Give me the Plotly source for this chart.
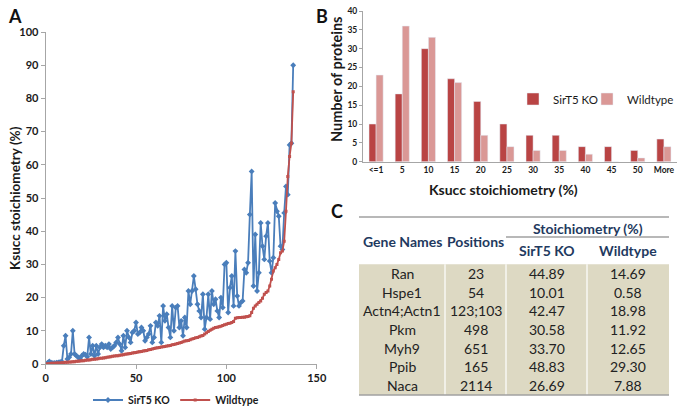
import plotly.graph_objects as go

W, H = 685, 413
FONT = "Lato"


def px(x):
    return x / W


def py(y):
    return 1 - y / H


# ---------------- Panel A data ----------------
site_index = list(range(1, 138))
sirt5_ko = [
    0.3, 0.8, 0.4, 0.3, 0.3, 0.4, 0.5, 0.6, 0.7, 5.5,
    8.5, 1.5, 2.0, 3.0, 10.0, 3.0, 2.5, 2.0, 1.5, 2.5,
    3.0, 2.8, 2.2, 8.0, 3.0, 5.5, 2.5, 5.5, 3.0, 5.0,
    6.0, 5.0, 5.5, 5.0, 6.0, 4.5, 5.0, 5.5, 6.5, 8.0,
    6.0, 4.0, 8.5, 5.0, 10.0, 8.0, 6.5, 9.5, 10.0, 12.5,
    9.0, 9.5, 11.0, 10.0, 7.0, 8.0, 9.0, 11.5, 6.5, 8.0,
    12.5, 11.5, 14.5, 6.5, 17.5, 13.0, 15.0, 11.0, 8.0, 17.5,
    10.0, 17.0, 17.5, 11.0, 13.0, 8.5, 14.0, 11.0, 22.0, 18.0,
    22.0, 26.5, 22.5, 18.0, 16.0, 14.0, 21.0, 10.5, 14.0, 21.0,
    13.5, 22.0, 18.0, 19.5, 16.0, 14.0, 20.0, 17.0, 30.0, 30.5,
    15.5, 23.0, 26.5, 17.5, 34.0, 20.5, 17.5, 18.5, 19.0, 28.5,
    27.5, 30.5, 45.0, 58.0, 23.5, 39.0, 22.0, 27.5, 42.5, 35.5,
    31.5, 38.5, 42.5, 31.0, 27.5, 32.0, 48.5, 46.0, 44.5, 35.5,
    34.5, 45.5, 53.5, 51.0, 66.0, 66.5, 90.0,
]
wildtype = [
    0.1, 0.1, 0.2, 0.2, 0.2, 0.3, 0.3, 0.3, 0.4, 0.4,
    0.5, 0.5, 0.6, 0.6, 0.7, 0.7, 0.8, 0.8, 0.9, 1.0,
    1.0, 1.1, 1.2, 1.2, 1.3, 1.4, 1.4, 1.5, 1.6, 1.7,
    1.7, 1.8, 1.9, 2.0, 2.1, 2.2, 2.3, 2.4, 2.5, 2.5,
    2.6, 2.7, 2.8, 2.9, 3.0, 3.1, 3.2, 3.3, 3.4, 3.5,
    3.6, 3.7, 3.8, 3.9, 4.0, 4.1, 4.3, 4.4, 4.5, 4.7,
    4.8, 4.9, 5.0, 5.1, 5.2, 5.3, 5.4, 5.5, 5.6, 5.8,
    5.9, 6.0, 6.2, 6.3, 6.5, 6.7, 6.9, 7.0, 7.1, 7.3,
    7.5, 7.7, 7.9, 8.0, 8.2, 8.4, 8.6, 9.0, 9.4, 9.8,
    10.2, 10.5, 10.8, 11.0, 11.1, 11.2, 11.4, 11.6, 11.8, 12.0,
    12.2, 12.3, 12.5, 12.8, 13.8, 13.9, 14.0, 14.0, 14.1, 14.1,
    14.2, 14.3, 14.5, 15.5, 16.8, 17.5, 18.0, 18.5, 19.0, 19.8,
    21.0, 21.5, 22.0, 23.5, 25.5, 28.0, 29.0, 30.0, 31.5, 33.5,
    34.0, 37.0, 46.0, 56.5, 62.5, 66.5, 82.0,
]

# ---------------- Panel B data ----------------
bins = ["<=1", "5", "10", "15", "20", "25", "30", "35", "40", "45", "50", "More"]
count_ko = [10, 18, 30, 22, 16, 10, 7, 7, 4, 4, 3, 6]
count_wt = [23, 36, 33, 21, 7, 4, 3, 3, 2, 0, 1, 4]

# ---------------- Panel C data ----------------
gene_names = ["Ran", "Hspe1", "Actn4;Actn1", "Pkm", "Myh9", "Ppib", "Naca"]
positions = ["23", "54", "123;103", "498", "651", "165", "2114"]
stoich_ko = [44.89, 10.01, 42.47, 30.58, 33.70, 48.83, 26.69]
stoich_wt = [14.69, 0.58, 18.98, 11.92, 12.65, 29.30, 7.88]

BLUE = "#4A7EBB"
RED = "#C0504D"
BAR_DARK = "#B94444"
BAR_LIGHT = "#DA9896"
AXIS = "#A6A6A6"
TXT = "#1A1A1A"
NAVY = "#1F3A60"

fig = go.Figure()

fig.add_trace(go.Scatter(
    x=site_index, y=sirt5_ko, mode="lines+markers", name="SirT5 KO",
    line=dict(color=BLUE, width=1.8),
    marker=dict(symbol="diamond", size=4.5, color=BLUE),
    legend="legend", xaxis="x", yaxis="y"))
fig.add_trace(go.Scatter(
    x=site_index, y=wildtype, mode="lines+markers", name="Wildtype",
    line=dict(color=RED, width=1.8),
    marker=dict(symbol="square", size=3, color=RED),
    legend="legend", xaxis="x", yaxis="y"))

fig.add_trace(go.Bar(
    x=bins, y=count_ko, name="SirT5 KO", marker=dict(color=BAR_DARK),
    xaxis="x2", yaxis="y2", legend="legend2"))
fig.add_trace(go.Bar(
    x=bins, y=count_wt, name="Wildtype", marker=dict(color=BAR_LIGHT),
    xaxis="x2", yaxis="y2", legend="legend3"))

tickfont_a = dict(family=FONT, size=11, color=TXT, weight="bold")
tickfont_b = dict(family=FONT, size=8.5, color=TXT, weight="bold")
legfont_b = dict(family=FONT, size=11.5, color=TXT)

fig.update_layout(
    width=W, height=H,
    margin=dict(l=0, r=0, t=0, b=0, autoexpand=False),
    paper_bgcolor="white", plot_bgcolor="white",
    font=dict(family=FONT, color=TXT),
    showlegend=True,
    barmode="group", bargap=0.46, bargroupgap=0.0,
    xaxis=dict(domain=[px(45.7), px(316.7)], range=[0, 150],
               tickvals=[0, 50, 100, 150], showgrid=False, zeroline=False,
               showline=True, linecolor=AXIS, linewidth=1,
               ticks="outside", ticklen=4, tickcolor=AXIS,
               tickfont=tickfont_a, anchor="y", automargin=False),
    yaxis=dict(domain=[py(364), py(32)], range=[0, 100], dtick=10,
               showgrid=False, zeroline=False,
               showline=True, linecolor=AXIS, linewidth=1,
               ticks="outside", ticklen=4, tickcolor=AXIS,
               tickfont=tickfont_a, anchor="x", automargin=False),
    xaxis2=dict(domain=[px(363), px(677)], type="category",
                showgrid=False, zeroline=False,
                showline=True, linecolor=AXIS, linewidth=1,
                ticks="", tickfont=tickfont_b, anchor="y2", automargin=False),
    yaxis2=dict(domain=[py(161.7), py(11)], range=[0, 40], dtick=5,
                showgrid=False, zeroline=False,
                showline=True, linecolor=AXIS, linewidth=1,
                ticks="outside", ticklen=3, tickcolor=AXIS,
                tickfont=tickfont_b, anchor="x2", automargin=False),
    legend=dict(orientation="h", x=px(176), xanchor="center",
                y=py(400), yanchor="middle", bgcolor="rgba(0,0,0,0)",
                font=dict(family=FONT, size=10.5, color=TXT, weight="bold"),
                itemwidth=30, tracegroupgap=0),
    legend2=dict(orientation="h", x=px(513), xanchor="left",
                 y=py(99), yanchor="middle", bgcolor="rgba(0,0,0,0)",
                 font=legfont_b, itemwidth=30),
    legend3=dict(orientation="h", x=px(587), xanchor="left",
                 y=py(99), yanchor="middle", bgcolor="rgba(0,0,0,0)",
                 font=legfont_b, itemwidth=30),
)

ann = []
# Panel letters
for letter, x, y in [("A", 15, 16), ("B", 322, 16), ("C", 337, 211)]:
    ann.append(dict(text=letter, x=px(x), y=py(y), xref="paper", yref="paper",
                    showarrow=False, xanchor="center", yanchor="middle",
                    font=dict(family=FONT, size=18, color="#111", weight="bold")))
# Axis titles
ann.append(dict(text="Ksucc stoichiometry (%)", x=px(15), y=py(198),
                xref="paper", yref="paper", showarrow=False, textangle=-90,
                xanchor="center", yanchor="middle",
                font=dict(family=FONT, size=13.5, color=TXT, weight="bold")))
ann.append(dict(text="Number of proteins", x=px(336), y=py(80),
                xref="paper", yref="paper", showarrow=False, textangle=-90,
                xanchor="center", yanchor="middle",
                font=dict(family=FONT, size=14.5, color=TXT, weight="bold")))
ann.append(dict(text="Ksucc stoichiometry (%)", x=px(503), y=py(189),
                xref="paper", yref="paper", showarrow=False,
                xanchor="center", yanchor="middle",
                font=dict(family=FONT, size=14, color=TXT, weight="bold")))

# ---------------- Panel C table ----------------
tbl_left, tbl_right = 359, 669
col_edges = [359, 445, 506, 587, 669]
col_centers = [(col_edges[i] + col_edges[i + 1]) / 2 for i in range(4)]
top_line = 217
sub_line = 237
body_top = 264.3
body_bottom = 395
row_h = (body_bottom - body_top) / len(gene_names)

shapes = []
shapes.append(dict(type="rect", xref="paper", yref="paper",
                   x0=px(tbl_left), x1=px(tbl_right),
                   y0=py(body_bottom), y1=py(body_top),
                   fillcolor="#DDD9C3", line=dict(width=0), layer="below"))
for xe in col_edges[1:-1]:
    shapes.append(dict(type="line", xref="paper", yref="paper",
                       x0=px(xe), x1=px(xe), y0=py(body_bottom), y1=py(body_top),
                       line=dict(color="white", width=1.2)))
for (x0, x1, y) in [(tbl_left, tbl_right, top_line),
                    (col_edges[2], tbl_right, sub_line),
                    (tbl_left, tbl_right, body_bottom)]:
    shapes.append(dict(type="line", xref="paper", yref="paper",
                       x0=px(x0), x1=px(x1), y0=py(y), y1=py(y),
                       line=dict(color="#A0A0A0", width=1.5)))

head_font = dict(family=FONT, size=14, color=NAVY, weight="bold")
ann.append(dict(text="Stoichiometry (%)", x=px((col_edges[2] + col_edges[4]) / 2),
                y=py(228), xref="paper", yref="paper", showarrow=False,
                xanchor="center", yanchor="middle", font=head_font))
for label, ci, yy in [("Gene Names", 0, 241.5), ("Positions", 1, 241.5),
                      ("SirT5 KO", 2, 250.5), ("Wildtype", 3, 250.5)]:
    ann.append(dict(text=label, x=px(col_centers[ci]), y=py(yy),
                    xref="paper", yref="paper", showarrow=False,
                    xanchor="center", yanchor="middle", font=head_font))

body_font = dict(family=FONT, size=14, color="#222")
for r in range(len(gene_names)):
    yc = body_top + row_h * (r + 0.5)
    vals = [gene_names[r], positions[r], f"{stoich_ko[r]:.2f}", f"{stoich_wt[r]:.2f}"]
    for ci, v in enumerate(vals):
        ann.append(dict(text=v, x=px(col_centers[ci]), y=py(yc),
                        xref="paper", yref="paper", showarrow=False,
                        xanchor="center", yanchor="middle", font=body_font))

fig.update_layout(annotations=ann, shapes=shapes)

fig.write_html("out.html",
               config={"displayModeBar": False},
               post_script="document.body.style.margin='0px';"
                           "document.body.style.overflow='hidden';")
